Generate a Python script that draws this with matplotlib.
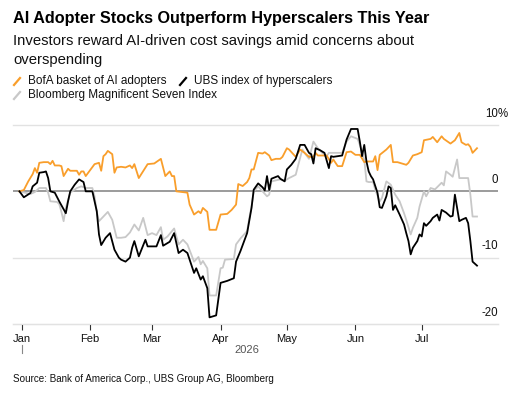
import matplotlib
matplotlib.use("Agg")
import matplotlib.pyplot as plt
from matplotlib.lines import Line2D
import pandas as pd

plt.rcParams['font.family'] = ['Liberation Sans', 'DejaVu Sans']

# дни от 1 января 2026 и значения, % изменения
bofa_days = [-1, 1, 3, 5, 6, 7, 8, 10, 12, 13, 14, 15, 17, 18, 19, 21, 22, 25, 26, 27,
             28, 29, 31, 33, 35, 36, 37, 38, 39, 41, 42, 43, 45, 47, 49, 50, 51, 53, 57, 60,
             63, 65, 67, 68, 69, 70, 75, 76, 78, 80, 81, 82, 84, 85, 88, 90, 93, 95, 97, 98,
             100, 102, 103, 104, 105, 107, 109, 110, 112, 113, 115, 117, 118, 120, 121, 124, 126, 128, 130, 132,
             133, 134, 138, 140, 141, 143, 145, 147, 149, 151, 153, 155, 156, 159, 160, 161, 162, 165, 167, 168,
             170, 174, 175, 177, 179, 181, 182, 185, 186, 188, 190, 191, 194, 196, 198, 199, 201, 202, 203, 204,
             206]
bofa = [0, 0.2, 1.5, 2.6, 3.5, 2.8, 4.3, 4.4, 4.4, 4.1, 4.6, 3.9, 3.9, 3.8, 2.3, 3.4, 3.1, 3.1, 2.5, 3.0,
        3.0, 2.3, 3.2, 4.1, 4.3, 3.1, 5.3, 5.6, 6.1, 5.6, 2.8, 3.6, 3.7, 3.6, 3.9, 3.5, 4.1, 2.0, 4.1, 4.2,
        4.9, 2.3, 3.0, 2.3, 2.3, 0, -0.2, -2.0, -3.5, -3.0, -3.3, -2.5, -3.1, -5.8, -5.8, -3.5, -3.4, -2.8, -2.0, 1.1,
        0.8, 1.4, 2.0, 3.3, 3.3, 5.8, 5.7, 5.9, 5.4, 4.7, 4.9, 4.9, 5.2, 6.5, 6.3, 5.2, 6.3, 5.8, 5.2, 5.2,
        5.8, 5.4, 5.4, 4.3, 4.8, 3.8, 3.8, 5.9, 6.0, 5.5, 5.5, 4.4, 4.5, 4.5, 5.3, 3.2, 5.5, 6.3, 7.0, 4.4,
        4.4, 4.0, 4.3, 5.4, 5.6, 5.9, 7.7, 7.9, 8.2, 7.4, 8.3, 7.9, 7.2, 7.7, 8.8, 7.4, 7.0, 7.1, 6.7, 5.8,
        6.5]

ubs_days = [-1, 1, 4, 5, 7, 8, 10, 11, 12, 13, 15, 17, 20, 21, 22, 24, 26, 28, 29, 32,
            34, 35, 36, 38, 40, 42, 44, 45, 47, 49, 50, 51, 53, 56, 57, 61, 63, 64, 67, 69,
            71, 73, 75, 78, 79, 81, 82, 84, 85, 88, 90, 93, 96, 97, 99, 101, 102, 104, 105, 107,
            109, 110, 111, 112, 113, 116, 117, 119, 120, 122, 124, 126, 128, 130, 131, 132, 133, 135, 137, 139,
            140, 141, 143, 145, 147, 149, 152, 153, 154, 155, 156, 157, 158, 159, 161, 162, 163, 165, 166, 167,
            168, 169, 171, 173, 174, 175, 176, 177, 179, 180, 181, 182, 183, 185, 186, 188, 189, 190, 192, 194,
            195, 196, 198, 199, 201, 202, 203, 204, 206]
ubs = [0, -0.9, -0.25, 0.75, 1.3, 2.8, 2.9, 3.0, 2.0, 0, -0.2, -1.5, -3.3, -1.5, 0, 1.0, 1.8, 1.4, 0, 0,
       -3.0, -6.5, -8.1, -7.0, -6.3, -8.8, -10.0, -10.3, -10.6, -10.0, -8.5, -7.5, -9.8, -7.3, -8.3, -8.3, -6.6, -8.2, -7.6, -6.3,
       -9.3, -8.8, -9.3, -12.3, -11.6, -13.3, -12.8, -14.6, -19.0, -18.7, -13.8, -13.5, -13.1, -10.6, -9.0, -7.2, -6.3, -2.5, 0.25, 1.2,
       0.6, 0.15, 2.3, 0.2, 1.9, 2.3, 1.9, 1.5, 3.3, 4.0, 4.9, 7.0, 7.0, 5.8, 5.6, 4.2, 6.5, 6.2, 5.8, 3.5,
       5.3, 5.2, 5.3, 5.4, 7.8, 9.4, 9.4, 7.5, 5.3, 7.0, 4.5, 3.0, 2.3, 1.8, -0.25, -2.4, -2.5, -0.75, 0.75, 0.5,
       -2.8, -2.1, -3.5, -5.0, -6.3, -7.5, -9.5, -8.5, -7.5, -6.5, -6.8, -4.8, -5.2, -4.5, -4.0, -3.5, -4.4, -2.8, -3.2, -3.8,
       -3.7, -0.5, -4.5, -4.3, -4.0, -4.8, -7.5, -10.6, -11.2]

mag7_days = [-1, 4, 6, 8, 11, 12, 13, 16, 17, 18, 19, 20, 22, 25, 27, 29, 32, 33, 34, 35,
             37, 39, 41, 43, 45, 47, 49, 51, 53, 55, 57, 59, 61, 63, 64, 66, 69, 71, 73, 75,
             78, 80, 81, 82, 84, 85, 88, 90, 91, 92, 96, 97, 99, 102, 103, 104, 105, 107, 109, 111,
             112, 113, 117, 119, 121, 124, 125, 127, 128, 130, 132, 134, 136, 138, 139, 142, 145, 147, 149, 152,
             153, 155, 156, 157, 159, 160, 162, 163, 165, 167, 169, 171, 173, 174, 176, 177, 179, 180, 182, 183,
             185, 187, 190, 191, 192, 194, 195, 197, 198, 202, 203, 204, 206]
mag7 = [0, -0.4, -0.1, 0.5, 0.5, -0.2, -1.5, -1.6, -1.9, -3.1, -4.5, -2.5, -0.2, 0.5, 0.75, 0.5, 0.5, -0.75, -3.1, -4.5,
        -3.8, -3.1, -4.3, -7.0, -7.0, -6.9, -6.2, -5.0, -5.9, -4.0, -6.6, -6.3, -6.6, -5.4, -7.3, -6.8, -5.6, -8.0, -7.3, -8.0,
        -10.6, -9.9, -11.0, -10.5, -11.6, -15.7, -15.7, -11.6, -11.5, -10.3, -10.2, -8.0, -7.1, -6.0, -4.0, -2.3, 0, 0.75, 0, -0.75,
        -0.5, 1.5, 1.8, 1.6, 2.0, 2.5, 3.8, 6.3, 5.8, 4.9, 7.5, 6.5, 5.8, 5.3, 5.8, 5.8, 5.8, 7.5, 8.3, 7.9,
        7.0, 4.8, 1.5, 1.4, 1.4, 0.2, -1.5, -1.0, 1.5, 1.0, -0.5, -1.5, -3.3, -4.3, -6.5, -5.5, -4.0, -2.3, 0, -0.75,
        0.5, 0.3, 1.3, 0.9, 3.0, 2.5, 2.2, 4.8, 2.0, 2.0, -0.5, -3.8, -3.8]

month_labels = ['Jan', 'Feb', 'Mar', 'Apr', 'May', 'Jun', 'Jul']
y_ticks = [10, 0, -10, -20]

START = pd.Timestamp('2026-01-01')


def to_dates(days):
    return START + pd.to_timedelta(days, unit='D')


W, H = 526, 397
fig = plt.figure(figsize=(W / 100, H / 100), dpi=100)


def fx(px):
    return px / W


def fy(py):
    return 1 - py / H


ax = fig.add_axes([fx(13), fy(324), fx(498) - fx(13), fy(125) - fy(324)])

ax.plot(to_dates(mag7_days), mag7, color='#c8c8c8', lw=1.3, zorder=3)
ax.plot(to_dates(bofa_days), bofa, color='#f99e2b', lw=1.3, zorder=4)
ax.plot(to_dates(ubs_days), ubs, color='black', lw=1.3, zorder=5)

ax.set_xlim(START - pd.Timedelta(days=3.9), START + pd.Timedelta(days=215.5))
ax.set_ylim(-20, 10)

for v in y_ticks:
    if v == 0:
        ax.axhline(0, color='#808080', lw=1.1, zorder=2)
    else:
        ax.axhline(v, color='#e2e2e2', lw=1.0, zorder=1, clip_on=False)

ax.set_yticks([])
for v in y_ticks:
    ax.text(1.0, v + 0.8, str(v), transform=ax.get_yaxis_transform(), ha='right', va='bottom',
            fontsize=8.3, color='#111111')
ax.text(1.0, 10 + 0.8, '%', transform=ax.get_yaxis_transform(), ha='left', va='bottom',
        fontsize=8.3, color='#111111')

for s in ['top', 'right', 'left']:
    ax.spines[s].set_visible(False)
ax.spines['bottom'].set_color('#e2e2e2')

month_ticks = pd.date_range('2026-01-01', periods=len(month_labels), freq='MS')
ax.set_xticks(month_ticks)
ax.set_xticklabels(month_labels)
ax.tick_params(axis='x', length=4, width=0.8, color='#333333', labelsize=8, pad=3,
               labelcolor='#111111')

# подпись года
fig.text(fx(247), fy(350), '2026', ha='center', va='center', fontsize=8, color='#555555')
fig.add_artist(Line2D([fx(21.7), fx(21.7)], [fy(345), fy(353)], color='#888888', lw=0.8))

# заголовки
fig.text(fx(13), fy(19), 'AI Adopter Stocks Outperform Hyperscalers This Year',
         fontsize=11.7, fontweight='bold', ha='left', va='center', color='black')
fig.text(fx(13), fy(41), 'Investors reward AI-driven cost savings amid concerns about',
         fontsize=10.7, ha='left', va='center', color='#111111')
fig.text(fx(13), fy(60), 'overspending', fontsize=10.7, ha='left', va='center', color='#111111')

# легенда
legend_items = [('BofA basket of AI adopters', '#f99e2b', 14, 81),
                ('UBS index of hyperscalers', 'black', 180, 81),
                ('Bloomberg Magnificent Seven Index', '#c8c8c8', 14, 95)]
for label, col, lx, ly in legend_items:
    fig.add_artist(Line2D([fx(lx), fx(lx + 6)], [fy(ly + 4), fy(ly - 3)], color=col, lw=1.6))
    fig.text(fx(lx + 14), fy(ly), label, fontsize=8.5, ha='left', va='center', color='#111111')

fig.text(fx(13), fy(379), 'Source: Bank of America Corp., UBS Group AG, Bloomberg',
         fontsize=7.1, ha='left', va='center', color='#111111')

fig.savefig('out.png', dpi=100)
